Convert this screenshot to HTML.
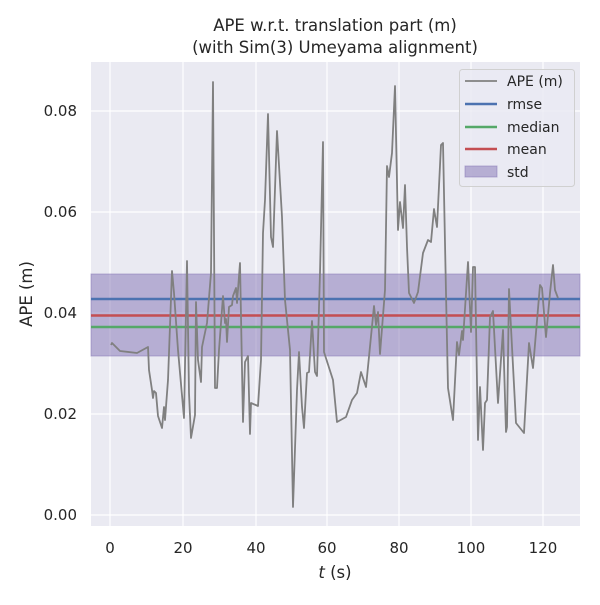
<!DOCTYPE html>
<html><head><style>body{margin:0;background:#fff}</style></head><body>
<svg width="600" height="600" xmlns="http://www.w3.org/2000/svg" font-family="DejaVu Sans, Liberation Sans, sans-serif">
<rect width="600" height="600" fill="#fff"/>
<rect x="91" y="62" width="489" height="464" fill="#eaeaf2"/>
<g stroke="#fff" stroke-width="1.2">
<line x1="110" y1="62" x2="110" y2="526"/><line x1="183" y1="62" x2="183" y2="526"/><line x1="256" y1="62" x2="256" y2="526"/><line x1="327" y1="62" x2="327" y2="526"/><line x1="399" y1="62" x2="399" y2="526"/><line x1="471" y1="62" x2="471" y2="526"/><line x1="543" y1="62" x2="543" y2="526"/>
<line x1="91" y1="515" x2="580" y2="515"/><line x1="91" y1="414" x2="580" y2="414"/><line x1="91" y1="313" x2="580" y2="313"/><line x1="91" y1="212" x2="580" y2="212"/><line x1="91" y1="111" x2="580" y2="111"/>
</g>
<rect x="91" y="274" width="489" height="82" fill="#8172b3" fill-opacity="0.5" stroke="#8172b3" stroke-opacity="0.5"/>
<line x1="91" y1="299" x2="580" y2="299" stroke="#4c72b0" stroke-width="2.5"/>
<line x1="91" y1="315.5" x2="580" y2="315.5" stroke="#c44e52" stroke-width="2.5"/>
<line x1="91" y1="327" x2="580" y2="327" stroke="#55a868" stroke-width="2.5"/>
<polyline fill="none" stroke="#808080" stroke-width="1.8" stroke-linejoin="round" points="111,345 112,343 120,351 137,353 148,347 149,370 152,390 153,398 154,391 156,393 158,416 162,428 164,407 165,420 168,380 172,271 174,293 178,350 184,418 187,261 189,393 191,438 195,415 196,302 198,360 201,382 202,347 207,323 211,273 213,82 215,388 217,388 219,350 223,296 225,323 226,319 227,342 229,307 232,305 233,296 236,288 237,303 240,263 243,422 245,362 248,356 250,434 251,403 258,406 261,360 263,233 265,200 268,114 271,237 273,247 277,131 282,217 285,300 290,350 293,507 297,390 299,352 302,407 304,428 307,373 309,372 312,321 315,372 317,376 320,273 323,142 324,352 333,380 337,422 346,417 352,400 357,393 361,372 366,387 374,306 376,325 378,312 380,354 385,290 387,166 389,177 392,153 395,86 398,230 400,202 403,228 405,185 407,247 409,293 414,303 418,292 423,253 428,240 431,242 434,209 437,227 441,145 443,143 446,293 448,388 453,420 457,342 459,355 462,331 463,340 468,262 471,332 473,267 475,267 478,440 480,387 483,450 485,403 487,400 490,317 493,311 498,403 503,330 506,432 507,427 509,289 512,347 516,423 520,428 524,433 529,343 533,368 540,285 542,288 546,337 550,293 553,265 555,290 558,298"/>
<rect x="459.5" y="69.5" width="115" height="117" rx="3" fill="#eaeaf2" fill-opacity="0.8" stroke="#d0d0d0"/>
<line x1="465" y1="81" x2="497" y2="81" stroke="#808080" stroke-width="1.8"/>
<line x1="465" y1="104" x2="497" y2="104" stroke="#4c72b0" stroke-width="2.5"/>
<line x1="465" y1="127" x2="497" y2="127" stroke="#55a868" stroke-width="2.5"/>
<line x1="465" y1="149" x2="497" y2="149" stroke="#c44e52" stroke-width="2.5"/>
<rect x="465" y="166" width="32" height="11" fill="#8172b3" fill-opacity="0.5" stroke="#8172b3" stroke-opacity="0.5"/>
<g font-size="14" fill="#262626">
<text x="507" y="86">APE (m)</text><text x="507" y="109">rmse</text><text x="507" y="132">median</text><text x="507" y="154">mean</text><text x="507" y="177">std</text>
</g>
<g font-size="15" fill="#262626" text-anchor="middle">
<text x="110" y="553">0</text><text x="183" y="553">20</text><text x="256" y="553">40</text><text x="327" y="553">60</text><text x="399" y="553">80</text><text x="471" y="553">100</text><text x="543" y="553">120</text>
</g>
<g font-size="15" fill="#262626" text-anchor="end">
<text x="77" y="520">0.00</text><text x="77" y="419">0.02</text><text x="77" y="318">0.04</text><text x="77" y="217">0.06</text><text x="77" y="116">0.08</text>
</g>
<text x="335" y="578" font-size="16.5" fill="#262626" text-anchor="middle"><tspan font-style="italic">t</tspan> (s)</text>
<text transform="translate(32,294) rotate(-90)" font-size="16.5" fill="#262626" text-anchor="middle">APE (m)</text>
<text x="335" y="31" font-size="16.5" fill="#262626" text-anchor="middle">APE w.r.t. translation part (m)</text>
<text x="335" y="53" font-size="16.5" fill="#262626" text-anchor="middle">(with Sim(3) Umeyama alignment)</text>
</svg>
</body></html>
